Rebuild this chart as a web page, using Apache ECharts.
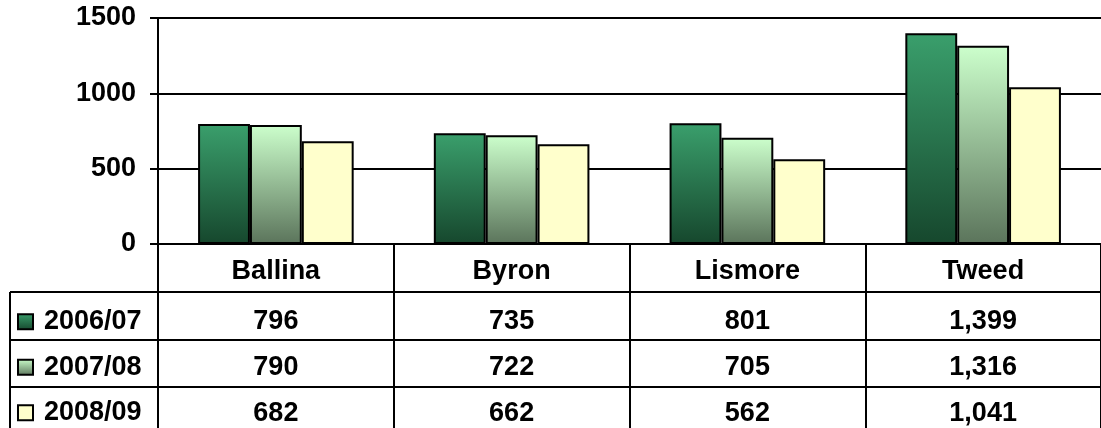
<!DOCTYPE html>
<html>
<head>
<meta charset="utf-8">
<script src="https://cdn.jsdelivr.net/npm/echarts@6/dist/echarts.min.js"></script>
<style>
  html, body { margin: 0; padding: 0; background: #fff; }
  #chart { width: 1101px; height: 428px; }
</style>
</head>
<body>
<div id="chart"></div>
<script>
// data
const categories = ["Ballina", "Byron", "Lismore", "Tweed"];
const seriesNames = ["2006/07", "2007/08", "2008/09"];
const v0607 = [796, 735, 801, 1399];
const v0708 = [790, 722, 705, 1316];
const v0809 = [682, 662, 562, 1041];
const yTicks = [0, 500, 1000, 1500];

const values = [v0607, v0708, v0809];
const font = "'Liberation Sans', Arial, sans-serif";

// table layout (px)
const gridLeft = 158, gridTop = 18, gridBottom = 184;
const tableLeft = 10;
const rowLines = [292, 340, 387];

const fills = [
  new echarts.graphic.LinearGradient(0, 0, 0, 1, [
    { offset: 0, color: "#3a9f6c" },
    { offset: 1, color: "#16472d" },
  ]),
  new echarts.graphic.LinearGradient(0, 0, 0, 1, [
    { offset: 0, color: "#ccffcc" },
    { offset: 1, color: "#5b745b" },
  ]),
  "#ffffcc",
];

function fmt(n) {
  return n.toLocaleString("en-US");
}

let myChart = echarts.init(document.getElementById("chart"));

// table rules
let graphics = rowLines.map((y) => ({
  type: "line",
  shape: { x1: tableLeft, y1: y, x2: 1101, y2: y },
  style: { stroke: "#000", lineWidth: 2 },
  silent: true,
}));
graphics.push({
  type: "line",
  shape: { x1: tableLeft, y1: rowLines[0], x2: tableLeft, y2: 428 },
  style: { stroke: "#000", lineWidth: 2 },
  silent: true,
});

myChart.setOption({
  animation: false,
  backgroundColor: "#fff",
  textStyle: { fontFamily: font },
  grid: { left: gridLeft, right: -9, top: gridTop, bottom: gridBottom },
  legend: {
    orient: "vertical",
    left: 17,
    top: 299,
    height: 300,
    padding: 0,
    itemGap: 0,
    itemWidth: 15,
    itemHeight: 15,
    icon: "rect",
    data: seriesNames,
    textStyle: {
      fontSize: 27,
      fontWeight: "bold",
      color: "#000",
      fontFamily: font,
      lineHeight: 45.5,
      padding: [0, 0, 0, 6],
    },
  },
  xAxis: {
    type: "category",
    data: categories,
    axisLine: { show: true, lineStyle: { color: "#000", width: 2 } },
    axisTick: {
      show: true,
      length: 200,
      lineStyle: { color: "#000", width: 2 },
    },
    axisLabel: {
      interval: 0,
      margin: 1,
      color: "#000",
      formatter: (name, idx) => {
        let s = "{h|" + name + "}";
        values.forEach((arr) => {
          s += "\n{v|" + fmt(arr[idx]) + "}";
        });
        return s;
      },
      rich: {
        h: { fontSize: 27, fontWeight: "bold", color: "#000", fontFamily: font, lineHeight: 54 },
        v: { fontSize: 27, fontWeight: "bold", color: "#000", fontFamily: font, lineHeight: 46 },
      },
    },
  },
  yAxis: {
    type: "value",
    min: yTicks[0],
    max: yTicks[yTicks.length - 1],
    interval: yTicks[1] - yTicks[0],
    axisLine: { show: true, lineStyle: { color: "#000", width: 2 } },
    axisTick: { show: true, length: 8, lineStyle: { color: "#000", width: 2 } },
    axisLabel: {
      margin: 22,
      fontSize: 27,
      fontWeight: "bold",
      color: "#000",
      fontFamily: font,
      formatter: (v) => String(v),
    },
    splitLine: { show: true, lineStyle: { color: "#000", width: 2 } },
  },
  graphic: graphics,
  series: seriesNames.map((name, i) => ({
    name: name,
    type: "bar",
    data: values[i],
    barGap: "0%",
    barCategoryGap: "34%",
    itemStyle: { color: fills[i], borderColor: "#000", borderWidth: 2 },
  })),
});
</script>
</body>
</html>
